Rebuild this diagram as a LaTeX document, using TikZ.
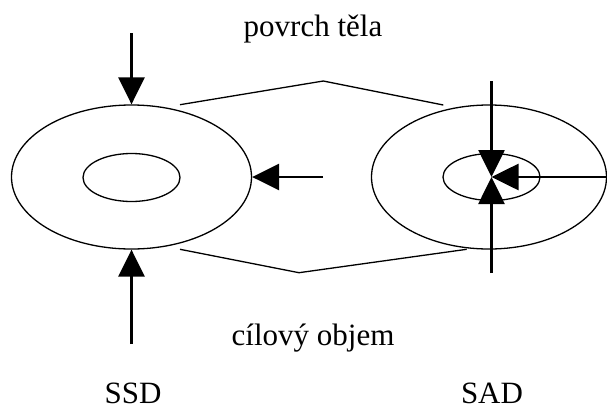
\documentclass[tikz,border=0pt]{standalone}
\usepackage{fontspec}
\setmainfont{Liberation Serif}
\usetikzlibrary{arrows.meta,shapes.geometric}
\begin{document}
\begin{tikzpicture}[x=1pt,y=-1pt,
  ring/.style={draw,ellipse,inner sep=0pt,line width=1.3pt},
  thin/.style={line width=1.3pt},
  pointer/.style={line width=2.7pt,-{Triangle[length=27pt,width=26pt]}},
  lbl/.style={font=\fontsize{31}{37}\selectfont,anchor=base,inner sep=0pt}]
\useasboundingbox (0,0) rectangle (607,410);
% SSD
\node[ring,minimum width=240pt,minimum height=144pt] (L) at (131.5,177) {};
\node[ring,minimum width=97pt,minimum height=48pt] (Li) at (131.5,177.5) {};
% SAD
\node[ring,minimum width=235pt,minimum height=144pt] (R) at (489,177) {};
\node[ring,minimum width=97pt,minimum height=47pt] (Ri) at (491.5,177) {};
% free ends
\coordinate (lt) at (131.5,33);
\coordinate (lb) at (131.5,344);
\coordinate (lm) at (323,177);
\coordinate (rt) at (491.5,81);
\coordinate (rb) at (491.5,273);
\coordinate (rr) at (607,177);
% arrows
\draw[pointer] (lt) -- (L.north);
\draw[pointer] (lb) -- (L.south);
\draw[pointer] (lm) -- (L.east);
\draw[pointer] (rt) -- (Ri.center);
\draw[pointer] (rb) -- (Ri.center);
\draw[pointer] (rr) -- (Ri.center);
% surface / target lines
\coordinate (u1) at (180,104.7);
\coordinate (u2) at (323.3,81);
\coordinate (u3) at (443.3,105);
\coordinate (d1) at (180,249.3);
\coordinate (d2) at (299,272.7);
\coordinate (d3) at (466.7,249.3);
\draw[thin] (u1) -- (u2) -- (u3);
\draw[thin] (d1) -- (d2) -- (d3);
% labels
\node[lbl] (t1) at (313,36.7) {povrch těla};
\node[lbl] (t2) at (313,345) {cílový objem};
\node[lbl] (t3) at (133,403) {SSD};
\node[lbl] (t4) at (492,403) {SAD};
\end{tikzpicture}
\end{document}
